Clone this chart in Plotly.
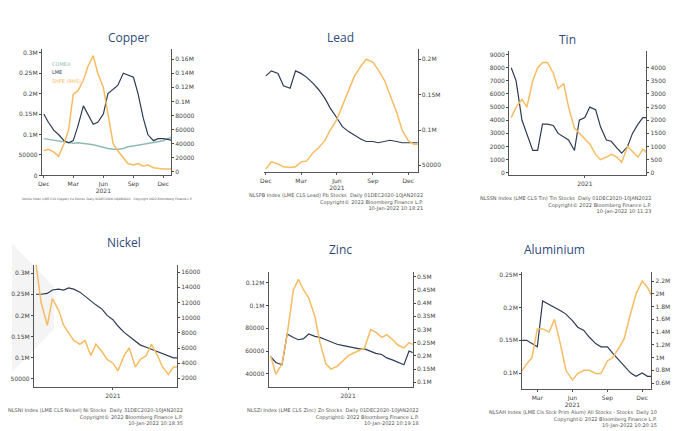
import plotly.graph_objects as go
import pandas as pd

NAVY = '#2d3b55'
ORANGE = '#f6bc62'
TEAL = '#8fbcb2'

dates = pd.date_range('2020-12-01', '2022-01-05', freq='SMS')  # 1st and 15th


def bbg(v):
    """Bloomberg style tick label"""
    return '%gM' % (v / 1e6) if v >= 1e5 else '%d' % v


# panels: name -> (box in pixels x0, x1, y0, y1), series, axes
panels = {
    'Copper': dict(box=(30, 160, 40, 168), left=(0, 0.31e6), right=(-5000, 0.175e6),
                   lticks=[0, 50000, 0.1e6, 0.15e6, 0.2e6, 0.25e6, 0.3e6],
                   rticks=[0, 20000, 40000, 60000, 80000, 0.1e6, 0.12e6, 0.14e6, 0.16e6],
                   dark=[0.15e6, 0.13e6, 0.11e6, 0.1e6, 0.085e6, 0.08e6, 0.085e6, 0.12e6, 0.17e6, 0.15e6,
                         0.125e6, 0.13e6, 0.15e6, 0.2e6, 0.21e6, 0.22e6, 0.25e6, 0.245e6, 0.24e6, 0.2e6,
                         0.14e6, 0.1e6, 0.085e6, 0.09e6, 0.09e6, 0.088e6, 0.085e6],
                   orange=[30000, 32000, 28000, 22000, 40000, 60000, 110000, 115000, 130000, 150000,
                           165000, 140000, 120000, 80000, 40000, 30000, 20000, 12000, 10000, 12000,
                           8000, 10000, 6000, 5000, 4000, 4000, 4000],
                   teal=[0.09e6, 0.088e6, 0.086e6, 0.084e6, 0.082e6, 0.08e6, 0.079e6, 0.08e6, 0.079e6, 0.077e6,
                         0.075e6, 0.072e6, 0.069e6, 0.066e6, 0.064e6, 0.064e6, 0.066e6, 0.07e6, 0.072e6, 0.074e6,
                         0.076e6, 0.078e6, 0.08e6, 0.082e6, 0.085e6, 0.09e6, 0.095e6],
                   foot='Stocks Index (LME CLS Copper) Cu Stocks  Daily 01DEC2020-10JAN2022   Copyright 2022 Bloomberg Finance L.P.',
                   months=True),
    'Lead': dict(box=(253, 408, 40, 165), left=(0, 1), right=(40000, 0.215e6),
                 lticks=[], rticks=[50000, 0.1e6, 0.15e6, 0.2e6],
                 dark=[0.78, 0.82, 0.8, 0.7, 0.68, 0.82, 0.8, 0.77, 0.72, 0.67, 0.6, 0.52, 0.44, 0.37,
                       0.33, 0.3, 0.27, 0.25, 0.25, 0.24, 0.25, 0.26, 0.25, 0.24, 0.24, 0.24, 0.24],
                 orange=[45000, 55000, 52000, 48000, 47000, 48000, 55000, 56000, 68000, 75000, 85000,
                         100000, 115000, 135000, 155000, 175000, 190000, 200000, 196000, 185000, 170000,
                         150000, 125000, 100000, 85000, 80000, 80000],
                 foot='NLSPB Index (LME CLS Lead) Pb Stocks  Daily 01DEC2020-10JAN2022<br>Copyright\u00a9 2022 Bloomberg Finance L.P.<br>10-Jan-2022 10:18:21',
                 months=True),
    'Tin': dict(box=(500, 638, 42, 168), left=(-200, 9300), right=(-100, 4650),
                lticks=list(range(0, 9001, 1000)), rticks=list(range(0, 4001, 500)),
                dark=[8000, 7000, 4000, 3000, 1700, 1700, 3700, 3700, 3600, 3000, 2700, 2500, 1700, 4000,
                      4200, 5000, 4800, 3500, 2500, 2400, 1900, 1500, 2000, 3000, 3700, 4200, 4200],
                orange=[2100, 2500, 2800, 2500, 3500, 4000, 4200, 4200, 3800, 3200, 3400, 2500, 1700, 1500,
                        1300, 1100, 700, 500, 600, 700, 600, 400, 1000, 800, 600, 900, 700],
                foot='NLSSN Index (LME CLS Tin) Tin Stocks  Daily 01DEC2020-10JAN2022<br>Copyright\u00a9 2022 Bloomberg Finance L.P.<br>10-Jan-2022 10:11:23',
                months=False),
    'Nickel': dict(box=(22, 166, 258, 382), left=(30000, 0.32e6), right=(800, 17000),
                   lticks=[50000, 0.1e6, 0.15e6, 0.2e6, 0.25e6, 0.3e6], rticks=list(range(2000, 16001, 2000)),
                   dark=[0.25e6, 0.25e6, 0.252e6, 0.26e6, 0.262e6, 0.26e6, 0.265e6, 0.262e6, 0.255e6, 0.245e6,
                         0.235e6, 0.225e6, 0.215e6, 0.2e6, 0.19e6, 0.175e6, 0.16e6, 0.15e6, 0.14e6, 0.13e6,
                         0.125e6, 0.12e6, 0.115e6, 0.11e6, 0.105e6, 0.1e6, 0.1e6],
                   orange=[17000, 12000, 9000, 12500, 11000, 9000, 8000, 7000, 6500, 7000, 5000, 6500, 5500,
                           4500, 4000, 3000, 5000, 6000, 3500, 4500, 5000, 6500, 5000, 3500, 2500, 3500, 3500],
                   foot='NLSNI Index (LME CLS Nickel) Ni Stocks  Daily 31DEC2020-10JAN2022<br>Copyright\u00a9 2022 Bloomberg Finance L.P.<br>10-Jan-2022 10:18:35',
                   months=False),
    'Zinc': dict(box=(258, 403, 265, 382), left=(28000, 0.13e6), right=(0.08e6, 0.52e6),
                 lticks=[40000, 60000, 80000, 0.1e6, 0.12e6],
                 rticks=[0.1e6, 0.15e6, 0.2e6, 0.25e6, 0.3e6, 0.35e6, 0.4e6, 0.45e6, 0.5e6],
                 dark=[55000, 50000, 48000, 75000, 72000, 70000, 71000, 75000, 73000, 72000, 70000, 68000,
                       66000, 65000, 64000, 63000, 62000, 62000, 60000, 58000, 57000, 54000, 52000, 50000,
                       48000, 60000, 58000],
                 orange=[0.2e6, 0.13e6, 0.17e6, 0.28e6, 0.45e6, 0.49e6, 0.45e6, 0.42e6, 0.35e6, 0.25e6,
                         0.17e6, 0.15e6, 0.16e6, 0.18e6, 0.2e6, 0.21e6, 0.22e6, 0.23e6, 0.3e6, 0.29e6,
                         0.27e6, 0.28e6, 0.26e6, 0.24e6, 0.23e6, 0.25e6, 0.24e6],
                 foot='NLSZI Index (LME CLS Zinc) Zn Stocks  Daily 01DEC2020-10JAN2022<br>Copyright\u00a9 2022 Bloomberg Finance L.P.<br>10-Jan-2022 10:19:18',
                 months=False),
    'Aluminium': dict(box=(513, 643, 265, 384), left=(0.075e6, 0.255e6), right=(0.5e6, 2.35e6),
                      lticks=[0.1e6, 0.15e6, 0.2e6, 0.25e6],
                      rticks=[0.6e6, 0.8e6, 1e6, 1.2e6, 1.4e6, 1.6e6, 1.8e6, 2e6, 2.2e6],
                      dark=[None, None, 0.14e6, 0.15e6, 0.15e6, 0.145e6, 0.14e6, 0.21e6, 0.205e6, 0.2e6,
                            0.195e6, 0.19e6, 0.18e6, 0.17e6, 0.165e6, 0.155e6, 0.145e6, 0.14e6, 0.14e6,
                            0.13e6, 0.12e6, 0.11e6, 0.1e6, 0.095e6, 0.1e6, 0.095e6, 0.095e6],
                      orange=[None, None, 0.85e6, 0.75e6, 0.9e6, 1.0e6, 1.45e6, 1.45e6, 1.4e6, 1.6e6, 1.2e6,
                              0.8e6, 0.65e6, 0.75e6, 0.8e6, 0.8e6, 0.75e6, 0.75e6, 0.95e6, 1.0e6, 1.15e6,
                              1.3e6, 1.7e6, 2.0e6, 2.2e6, 2.1e6, 1.9e6],
                      foot='NLSAH Index (LME Cls Stck Prim Alum) All Stocks - Stocks  Daily 10<br>Copyright\u00a9 2022 Bloomberg Finance L.P.<br>10-Jan-2022 10:20:15',
                      months=True),
}

W, H = 700, 431
fig = go.Figure()
layout = {}

for i, (name, p) in enumerate(panels.items()):
    x0, x1, y0, y1 = p['box']
    xa, ya, yb = 'x%d' % (i + 1), 'y%d' % (2 * i + 1), 'y%d' % (2 * i + 2)
    xdom = [x0 / W, x1 / W]
    ydom = [1 - y1 / H, 1 - y0 / H]

    fig.add_trace(go.Scatter(x=dates, y=p['orange'], xaxis=xa, yaxis=yb, mode='lines',
                             line=dict(color=ORANGE, width=1.5), showlegend=False))
    if 'teal' in p:
        fig.add_trace(go.Scatter(x=dates, y=p['teal'], xaxis=xa, yaxis=ya, mode='lines',
                                 line=dict(color=TEAL, width=1.5), showlegend=False))
    fig.add_trace(go.Scatter(x=dates, y=p['dark'], xaxis=xa, yaxis=ya, mode='lines',
                             line=dict(color=NAVY, width=1.2), showlegend=False))

    xr = ['2020-11-25', '2021-12-25'] if name != 'Aluminium' else ['2021-01-20', '2021-12-25']
    layout['xaxis%d' % (i + 1)] = dict(
        domain=xdom, anchor=ya, range=xr, showgrid=False, showline=True, linecolor='#555',
        ticks='outside', ticklen=2, tickcolor='#555', tickfont=dict(size=6, color='#444'),
        tickvals=(['2020-12-01', '2021-03-01', '2021-06-01', '2021-09-01', '2021-12-01'] if p['months'] else ['2021-07-01']),
        ticktext=(['Dec', 'Mar', 'Jun<br>2021', 'Sep', 'Dec'] if p['months'] else ['2021']))
    layout['yaxis%d' % (2 * i + 1)] = dict(
        domain=ydom, anchor=xa, range=p['left'], showgrid=False, zeroline=False,
        showline=bool(p['lticks']), linecolor='#555', ticks='outside' if p['lticks'] else '',
        ticklen=2, tickvals=p['lticks'], ticktext=[bbg(v) for v in p['lticks']],
        showticklabels=bool(p['lticks']), tickfont=dict(size=6, color='#444'))
    layout['yaxis%d' % (2 * i + 2)] = dict(
        domain=ydom, anchor=xa, overlaying=ya, side='right', range=p['right'], showgrid=False,
        zeroline=False, showline=True, linecolor='#555', ticks='outside', ticklen=2,
        tickvals=p['rticks'], ticktext=[bbg(v) for v in p['rticks']], tickfont=dict(size=6, color='#444'))

    fig.add_annotation(x=(x0 + x1) / 2 / W, y=1 - (y0 - 22) / H, xref='paper', yref='paper',
                       text=name, showarrow=False, font=dict(size=12, color='#2f4a7a', family='Open Sans'))
    if name == 'Copper':
        fig.add_annotation(x=8 / W, y=1 - (y1 + 20) / H, xref='paper', yref='paper', xanchor='left',
                           yanchor='top', text=p['foot'], showarrow=False, font=dict(size=3, color='#555'))
    else:
        fig.add_annotation(x=(x1 + 8) / W, y=1 - (y1 + 18) / H, xref='paper', yref='paper', xanchor='right',
                           yanchor='top', text=p['foot'], showarrow=False, align='right',
                           font=dict(size=5, color='#555'))

# Copper legend
for k, (txt, col) in enumerate([('COMEX', TEAL), ('LME', NAVY), ('SHFE (RHS)', ORANGE)]):
    fig.add_annotation(x=38 / W, y=1 - (50 + 9 * k) / H, xref='paper', yref='paper', xanchor='left',
                       text=txt, showarrow=False, font=dict(size=5, color=col))

fig.update_layout(width=W, height=H, margin=dict(l=0, r=0, t=0, b=0), plot_bgcolor='white',
                  paper_bgcolor='white', font=dict(family='DejaVu Sans'),
                  shapes=[dict(type='path', xref='paper', yref='paper', layer='below',
                               path='M 0 0.45 L 0.06 0.35 L 0.06 0.25 L 0 0.15 Z',
                               fillcolor='#f4f4f4', line_width=0)],
                  **layout)

fig.write_html("out.html")
